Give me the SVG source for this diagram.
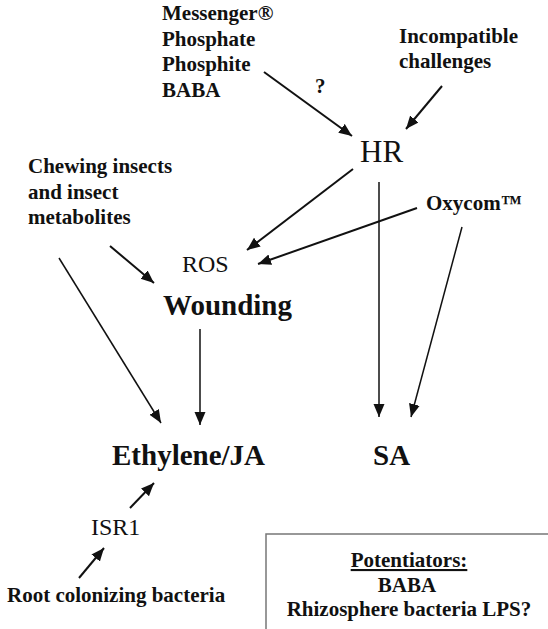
<svg xmlns="http://www.w3.org/2000/svg" width="548" height="629" viewBox="0 0 548 629">
<style>
text{font-family:"Liberation Serif","Times New Roman",serif;fill:#111}
.b{font-weight:bold;font-size:21px}
.r{font-weight:normal}
.big{font-weight:bold;font-size:29px}
.ln{stroke:#111;stroke-width:2;fill:none;marker-end:url(#ah)}
.th{stroke:#111;stroke-width:1.5;fill:none;marker-end:url(#ah)}
</style>
<defs>
<marker id="ah" markerUnits="userSpaceOnUse" markerWidth="14" markerHeight="12" refX="13" refY="5.5" orient="auto">
<path d="M0,0 L13,5.5 L0,11 Z" fill="#111"/>
</marker>
</defs>
<rect width="548" height="629" fill="#fff"/>
<g id="connectors">
<line class="ln" x1="264" y1="72" x2="352" y2="136"/>
<line class="ln" x1="442" y1="86" x2="406" y2="129"/>
<line class="ln" x1="353" y1="169" x2="247" y2="250"/>
<line class="ln" x1="417" y1="208" x2="258" y2="264"/>
<line class="th" x1="379" y1="182" x2="379" y2="417"/>
<line class="th" x1="462" y1="227" x2="411" y2="417"/>
<line class="ln" x1="110" y1="246" x2="154" y2="283"/>
<line class="th" x1="59" y1="258" x2="161" y2="423"/>
<line class="th" x1="200" y1="329" x2="200" y2="425"/>
<line class="ln" x1="130" y1="508" x2="154" y2="483"/>
<line class="ln" x1="79" y1="578" x2="104" y2="548"/>
</g>
<g id="inducers">
<text class="b" x="162" y="20">Messenger®</text>
<text class="b" x="162" y="46">Phosphate</text>
<text class="b" x="162" y="71">Phosphite</text>
<text class="b" x="162" y="97">BABA</text>
</g>
<g id="question"><text class="b" x="315" y="93">?</text></g>
<g id="incompatible">
<text class="b" x="399" y="43">Incompatible</text>
<text class="b" x="399" y="68">challenges</text>
</g>
<g id="hr"><text class="r" x="360" y="162" font-size="31">HR</text></g>
<g id="chewing">
<text class="b" x="28" y="173">Chewing insects</text>
<text class="b" x="28" y="199">and insect</text>
<text class="b" x="28" y="224">metabolites</text>
</g>
<g id="oxycom"><text class="b" x="426" y="210" font-size="20">Oxycom™</text></g>
<g id="ros"><text class="r" x="182" y="272" font-size="24">ROS</text></g>
<g id="wounding"><text class="big" x="163" y="315" font-size="28">Wounding</text></g>
<g id="ethylene"><text class="big" x="112" y="465">Ethylene/JA</text></g>
<g id="sa"><text class="big" x="373" y="465">SA</text></g>
<g id="isr1"><text class="r" x="91" y="535" font-size="24">ISR1</text></g>
<g id="root"><text class="b" x="7" y="602">Root colonizing bacteria</text></g>
<g id="potentiators">
<rect x="266" y="534" width="300" height="110" fill="none" stroke="#777" stroke-width="1.5"/>
<text class="b" x="409" y="567" text-anchor="middle" text-decoration="underline">Potentiators:</text>
<text class="b" x="407" y="592" text-anchor="middle">BABA</text>
<text class="b" x="409" y="616" text-anchor="middle">Rhizosphere bacteria LPS?</text>
</g>
</svg>
